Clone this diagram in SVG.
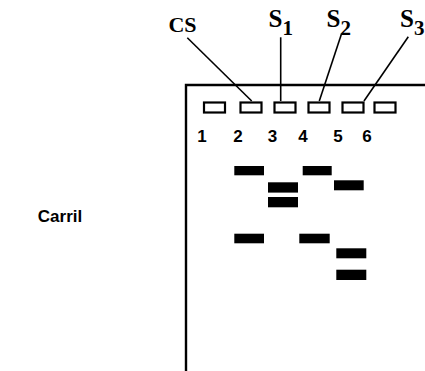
<svg xmlns="http://www.w3.org/2000/svg" width="425" height="371" viewBox="0 0 425 371">
<style>
.well{fill:#fff;stroke:#000;stroke-width:2.2}
.band{fill:#000}
.num{font-family:"Liberation Sans",Arial,sans-serif;font-weight:bold;font-size:17px;text-anchor:middle;fill:#000}
.lab{font-family:"Liberation Serif","Times New Roman",serif;font-weight:bold;fill:#000}
.lead{stroke:#000;stroke-width:1.6;fill:none}
</style>
<rect width="425" height="371" fill="#fff"/>
<g id="gel">
<path d="M186,371 V85 H425" fill="none" stroke="#000" stroke-width="2.4"/>
</g>
<g id="wells">
<rect class="well" x="204" y="102.5" width="21" height="10"/>
<rect class="well" x="240.5" y="102.5" width="21" height="10"/>
<rect class="well" x="274.5" y="102.5" width="21" height="10"/>
<rect class="well" x="308.5" y="102.5" width="21" height="10"/>
<rect class="well" x="342.5" y="102.5" width="21" height="10"/>
<rect class="well" x="374.5" y="102.5" width="21" height="10"/>
</g>
<g id="lane-numbers">
<text class="num" x="202" y="142">1</text>
<text class="num" x="238" y="142">2</text>
<text class="num" x="272.5" y="142">3</text>
<text class="num" x="303" y="142">4</text>
<text class="num" x="338" y="142">5</text>
<text class="num" x="367" y="142">6</text>
</g>
<g id="carril">
<text x="60" y="222" font-family="Liberation Sans, Arial, sans-serif" font-weight="bold" font-size="17" text-anchor="middle">Carril</text>
</g>
<g id="bands">
<rect class="band" x="234.3" y="166" width="29.7" height="9.3"/>
<rect class="band" x="268" y="182.3" width="30" height="10.3"/>
<rect class="band" x="268" y="197" width="30" height="10.3"/>
<rect class="band" x="302.7" y="166" width="29" height="9.3"/>
<rect class="band" x="334" y="180.3" width="29.7" height="10"/>
<rect class="band" x="234.3" y="233.7" width="29.7" height="9.6"/>
<rect class="band" x="299.3" y="233.7" width="30.4" height="9.6"/>
<rect class="band" x="336.3" y="248.3" width="30" height="10"/>
<rect class="band" x="336.3" y="269.7" width="30" height="10.3"/>
</g>
<g id="labels">
<g id="label-cs"><text class="lab" x="182.5" y="31.5" font-size="22" text-anchor="middle">CS</text></g>
<g id="label-s1"><text class="lab" x="268.5" y="27" font-size="25">S<tspan font-size="21" dy="8">1</tspan></text></g>
<g id="label-s2"><text class="lab" x="326.5" y="27" font-size="25">S<tspan font-size="21" dy="8">2</tspan></text></g>
<g id="label-s3"><text class="lab" x="400" y="27" font-size="25">S<tspan font-size="21" dy="8">3</tspan></text></g>
</g>
<g id="connectors">
<line class="lead" x1="187.3" y1="37.7" x2="251.7" y2="101"/>
<line class="lead" x1="280.7" y1="37.3" x2="280.7" y2="101"/>
<line class="lead" x1="341.7" y1="33.3" x2="319.3" y2="101"/>
<line class="lead" x1="408.3" y1="36.7" x2="364" y2="101"/>
</g>
</svg>
